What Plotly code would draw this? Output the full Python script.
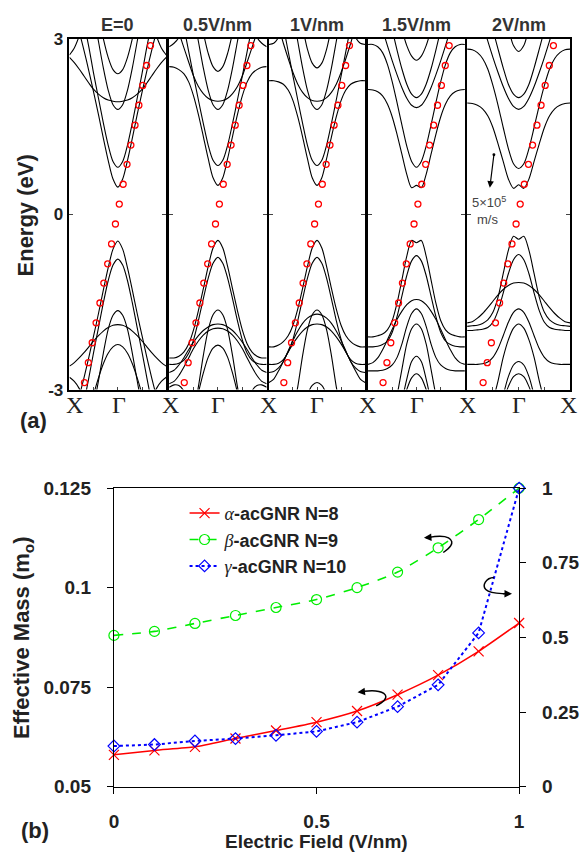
import plotly.graph_objects as go

# ---------------- data: panel (a) band structures ----------------
# Bands are symmetric about Gamma; each list gives E (eV) at K_HALF (|k| from Gamma to X).
K_HALF = [0.0, 0.1, 0.2, 0.3, 0.4, 0.5, 0.6, 0.7, 0.8, 0.9, 1.0]
PANEL_TITLES = ["E=0", "0.5V/nm", "1V/nm", "1.5V/nm", "2V/nm"]
N7 = [None] * 7
N6 = [None] * 6

BANDS_E0 = [
    [0.46, 0.60, 0.92, 1.30, 1.70, 2.08, 2.45, 2.80, 3.12, 3.40, 3.60],
    [0.80, 0.90, 1.18, 1.56, 1.98, 2.40, 2.86, 3.25, 3.60],
    [1.79, 1.87, 2.12, 2.50, 2.95, 3.40],
    [2.40, 2.47, 2.68, 3.00, 3.40],
    [1.92, 1.93, 1.95, 1.99, 2.05, 2.13, 2.24, 2.36, 2.48, 2.59, 2.68],
    N7 + [3.30, 3.04, 2.84, 2.72],
    [-0.46, -0.60, -0.92, -1.30, -1.70, -2.08, -2.45, -2.80, -3.12, -3.40],
    [-0.77, -0.87, -1.14, -1.52, -1.94, -2.36, -2.80, -3.22, -3.60],
    [-1.65, -1.73, -1.97, -2.38, -2.85, -3.30],
    [-1.89, -1.90, -1.94, -2.00, -2.08, -2.17, -2.27, -2.37, -2.46, -2.54, -2.60],
    [-2.23, -2.27, -2.38, -2.56, -2.80, -3.08, -3.40],
    N7 + [-3.20, -2.98, -2.86, -2.79],
]
BANDS_05 = [
    [0.49, 0.62, 0.95, 1.33, 1.70, 2.02, 2.26, 2.40, 2.47, 2.51, 2.52],
    [0.83, 0.92, 1.18, 1.55, 1.95, 2.36, 2.78, 3.20, 3.50],
    [1.79, 1.87, 2.12, 2.50, 2.95, 3.40],
    [2.44, 2.52, 2.75, 3.10, 3.50],
    [1.93, 1.94, 1.98, 2.06, 2.18, 2.36, 2.60, 2.85, 3.10, 3.30],
    N7 + [3.25, 3.02, 2.92, 2.86],
    [-0.45, -0.58, -0.90, -1.28, -1.65, -1.98, -2.22, -2.36, -2.43, -2.46, -2.46],
    [-0.74, -0.84, -1.10, -1.45, -1.82, -2.15, -2.38, -2.50, -2.55, -2.57, -2.57],
    [-1.64, -1.72, -1.98, -2.42, -2.95, -3.40],
    [-1.88, -1.89, -1.93, -1.99, -2.08, -2.19, -2.32, -2.46, -2.58, -2.67, -2.71],
    [-1.95, -1.96, -2.00, -2.07, -2.17, -2.30, -2.46, -2.62, -2.76, -2.86, -2.90],
    [-2.24, -2.29, -2.45, -2.72, -3.05, -3.40],
    N6 + [-3.20, -3.02, -2.93, -2.92, -2.96],
]
BANDS_10 = [
    [0.49, 0.62, 0.95, 1.32, 1.66, 1.94, 2.12, 2.22, 2.26, 2.28, 2.28],
    [0.83, 0.92, 1.18, 1.55, 1.95, 2.36, 2.78, 3.20, 3.50],
    [1.79, 1.87, 2.12, 2.50, 2.95, 3.40],
    [2.50, 2.58, 2.82, 3.20],
    [1.93, 1.94, 1.99, 2.08, 2.22, 2.42, 2.66, 2.92, 3.20, 3.40],
    N7 + [3.20, 3.02, 2.92, 2.90],
    [-0.45, -0.58, -0.90, -1.27, -1.62, -1.90, -2.08, -2.18, -2.24, -2.27, -2.27],
    [-0.74, -0.84, -1.10, -1.45, -1.82, -2.14, -2.36, -2.49, -2.55, -2.57, -2.57],
    [-1.64, -1.72, -1.98, -2.42, -2.95, -3.40],
    [-1.71, -1.73, -1.78, -1.87, -2.00, -2.16, -2.34, -2.52, -2.63, -2.69, -2.71],
    [-1.88, -1.89, -1.93, -2.00, -2.10, -2.22, -2.36, -2.52, -2.68, -2.82, -2.88],
    [-2.88, -2.93, -3.08, -3.30],
]
BANDS_15 = [
    [0.49, 0.45, 0.68, 1.02, 1.36, 1.66, 1.88, 2.02, 2.09, 2.12, 2.13],
    [0.80, 0.90, 1.16, 1.52, 1.90, 2.26, 2.56, 2.76, 2.86, 2.90, 2.90],
    [1.82, 1.86, 1.98, 2.16, 2.38, 2.62, 2.88, 3.15],
    [1.99, 2.05, 2.22, 2.48, 2.80, 3.15],
    [2.63, 2.70, 2.88, 3.15],
    [-0.49, -0.45, -0.72, -1.12, -1.52, -1.82, -1.98, -2.05, -2.08, -2.10, -2.10],
    [-0.71, -0.80, -1.05, -1.40, -1.75, -2.02, -2.17, -2.23, -2.26, -2.27, -2.27],
    [-1.46, -1.48, -1.55, -1.66, -1.80, -1.97, -2.15, -2.32, -2.46, -2.54, -2.57],
    [-1.62, -1.70, -1.92, -2.22, -2.45, -2.58, -2.64, -2.67, -2.68, -2.68, -2.68],
    [-1.88, -1.96, -2.22, -2.65, -3.10],
    [-2.43, -2.52, -2.82, -3.20],
    [-2.73, -2.80, -3.00, -3.30],
]
BANDS_20 = [
    [0.50, 0.44, 0.60, 0.90, 1.20, 1.48, 1.68, 1.80, 1.86, 1.89, 1.90],
    [0.78, 0.86, 1.12, 1.48, 1.86, 2.20, 2.48, 2.66, 2.76, 2.81, 2.82],
    [1.79, 1.84, 1.98, 2.18, 2.42, 2.68, 2.96, 3.25],
    [1.99, 2.05, 2.22, 2.50, 2.82, 3.15],
    [2.78, 2.88, 3.20],
    [-0.43, -0.38, -0.62, -1.02, -1.42, -1.68, -1.81, -1.87, -1.90, -1.91, -1.92],
    [-0.69, -0.78, -1.02, -1.35, -1.65, -1.85, -1.94, -1.97, -1.98, -1.99, -1.99],
    [-1.17, -1.18, -1.22, -1.29, -1.38, -1.49, -1.60, -1.70, -1.78, -1.84, -1.86],
    [-1.62, -1.68, -1.85, -2.08, -2.30, -2.45, -2.53, -2.56, -2.57, -2.57, -2.57],
    [-1.88, -1.95, -2.15, -2.45, -2.85, -3.20],
    [-2.52, -2.58, -2.78, -3.10],
    [-2.73, -2.78, -2.95, -3.20],
]
PANEL_BANDS = [BANDS_E0, BANDS_05, BANDS_10, BANDS_15, BANDS_20]

# linear dispersion guide (open red circles), k in units of Gamma-X
DIRAC_E = [2.88, 2.54, 2.20, 1.86, 1.52, 1.18, 0.85, 0.51, 0.17,
           -0.17, -0.51, -0.85, -1.18, -1.52, -1.86, -2.20, -2.54, -2.88]
DIRAC_K = [0.675, 0.595, 0.515, 0.435, 0.355, 0.270, 0.190, 0.110, 0.030,
           -0.050, -0.130, -0.210, -0.290, -0.370, -0.450, -0.530, -0.610, -0.690]
ENERGY_TICKS = [-3, 0, 3]
ENERGY_LABELS = ["-3", "0", "3"]

# ---------------- data: panel (b) effective mass ----------------
FIELD = [0.0, 0.1, 0.2, 0.3, 0.4, 0.5, 0.6, 0.7, 0.8, 0.9, 1.0]
MASS_ALPHA = [0.0580, 0.0591, 0.0600, 0.0621, 0.0641, 0.0662, 0.0690, 0.0731, 0.0780, 0.0840, 0.0911]
MASS_BETA = [0.0880, 0.0890, 0.0910, 0.0930, 0.0950, 0.0970, 0.1000, 0.1039, 0.1100, 0.1171, 0.1250]
MASS_GAMMA = [0.136, 0.141, 0.153, 0.161, 0.172, 0.185, 0.216, 0.268, 0.341, 0.515, 1.000]
LEFT_TICKS = [0.05, 0.075, 0.1, 0.125]
LEFT_LABELS = ["0.05", "0.075", "0.1", "0.125"]
RIGHT_TICKS = [0, 0.25, 0.5, 0.75, 1]
RIGHT_LABELS = ["0", "0.25", "0.5", "0.75", "1"]
FIELD_TICKS = [0, 0.5, 1]
FIELD_LABELS = ["0", "0.5", "1"]

# ---------------- layout helpers ----------------
W, H = 585, 864
SANS = "Liberation Sans"
SERIF = "Liberation Serif"
INK = "#222222"


def px_x(x):
    return x / W


def px_y(y):
    return 1 - y / H


def bold(labels):
    return [f"<b>{s}</b>" for s in labels]


def mirrored(half):
    vals = list(half) + [None] * (len(K_HALF) - len(half))
    ks = [-k for k in K_HALF[::-1]] + K_HALF[1:]
    es = vals[::-1] + vals[1:]
    return ks, es


PANEL_X = [(65.7, 164.3), (167.3, 266.7), (269.0, 367.0), (370.0, 468.7), (471.0, 576.0)]
PANEL_Y = (29.3, 389.0)
# X / Gamma labels under the panels (pixel x positions)
KLABEL_X = [70.5, 115.7, 168.5, 217.0, 268.5, 318.0, 369.5, 419.5, 471.5, 523.5, 574.5]
KLABEL_T = ["X", "\u0393", "X", "\u0393", "X", "\u0393", "X", "\u0393", "X", "\u0393", "X"]

fig = go.Figure()
layout = dict(width=W, height=H, margin=dict(l=0, r=0, t=0, b=0),
              paper_bgcolor="white", plot_bgcolor="white", showlegend=True)

annotations = []
for i, bands in enumerate(PANEL_BANDS):
    n = i + 1
    xa, ya = f"x{n}", f"y{n}"
    for half in bands:
        ks, es = mirrored(half)
        fig.add_trace(go.Scatter(x=ks, y=es, mode="lines", xaxis=xa, yaxis=ya,
                                 line=dict(color="black", width=1.1, shape="spline", smoothing=0.8),
                                 showlegend=False, hoverinfo="skip"))
    fig.add_trace(go.Scatter(x=DIRAC_K, y=DIRAC_E, mode="markers", xaxis=xa, yaxis=ya,
                             marker=dict(symbol="circle-open", size=6, color="red",
                                         line=dict(width=1.3, color="red")),
                             showlegend=False, hoverinfo="skip"))
    x0, x1 = PANEL_X[i]
    layout[f"xaxis{n}"] = dict(domain=[px_x(x0), px_x(x1)], range=[-1, 1], anchor=ya,
                               showline=True, linecolor="black", linewidth=1.5, mirror=True,
                               showgrid=False, zeroline=False, ticks="inside", ticklen=3,
                               tickvals=[-0.5, 0, 0.5], showticklabels=False)
    layout[f"yaxis{n}"] = dict(domain=[px_y(PANEL_Y[1]), px_y(PANEL_Y[0])], range=[-3, 3], anchor=xa,
                               showline=True, linecolor="black", linewidth=1.5, mirror="allticks",
                               showgrid=False, zeroline=False, ticks="inside", ticklen=4,
                               tickvals=ENERGY_TICKS, ticktext=bold(ENERGY_LABELS),
                               showticklabels=(n == 1), ticklabelstandoff=1,
                               tickfont=dict(family=SANS, size=17, color=INK))
    annotations.append(dict(text=f"<b>{PANEL_TITLES[i]}</b>", xref="paper", yref="paper",
                            x=px_x((x0 + x1) / 2), y=px_y(15), showarrow=False,
                            xanchor="center", yanchor="middle",
                            font=dict(family=SANS, size=18, color="#333333")))

for xp, t in zip(KLABEL_X, KLABEL_T):
    annotations.append(dict(text=t, xref="paper", yref="paper", x=px_x(xp), y=px_y(405),
                            showarrow=False, xanchor="center", yanchor="middle",
                            font=dict(family=SERIF, size=24, color=INK)))

# velocity marker in the 2 V/nm panel
annotations.append(dict(xref="x5", yref="y5", axref="x5", ayref="y5",
                        x=-0.56, y=0.45, ax=-0.477, ay=1.04, text="", showarrow=True,
                        arrowhead=2, arrowsize=1.1, arrowwidth=1.2, arrowcolor="black",
                        arrowside="end+start", startarrowhead=6, startarrowsize=0.6))
annotations.append(dict(xref="x5", yref="y5", x=-0.57, y=0.20, showarrow=False,
                        text="5\u00d710<sup>5</sup>",
                        font=dict(family=SANS, size=13, color="#444444")))
annotations.append(dict(xref="x5", yref="y5", x=-0.60, y=-0.10, showarrow=False,
                        text="m/s", font=dict(family=SANS, size=13, color="#444444")))

# ---------------- panel (b) ----------------
greek = "<span style='font-family:Liberation Serif;font-style:italic;font-weight:normal'>{}</span>"
fig.add_trace(go.Scatter(x=FIELD, y=MASS_ALPHA, xaxis="x6", yaxis="y6", mode="lines+markers",
                         name=greek.format("\u03b1") + "<b>-acGNR N=8</b>", legendgroup="a",
                         line=dict(color="#ff0000", width=1.5, shape="spline", smoothing=0.6),
                         marker=dict(symbol="x-thin-open", size=10, color="#ff0000",
                                     line=dict(width=1.2, color="#ff0000")), cliponaxis=False))
fig.add_trace(go.Scatter(x=FIELD, y=MASS_BETA, xaxis="x6", yaxis="y6", mode="lines+markers",
                         name=greek.format("\u03b2") + "<b>-acGNR N=9</b>", legendgroup="b",
                         line=dict(color="#00ee00", width=1.6, dash="dash", shape="spline", smoothing=0.6),
                         marker=dict(symbol="circle-open", size=10, color="#00ee00",
                                     line=dict(width=1.2, color="#00ee00")), cliponaxis=False))
fig.add_trace(go.Scatter(x=FIELD, y=MASS_GAMMA, xaxis="x6", yaxis="y7", mode="lines+markers",
                         name=greek.format("\u03b3") + "<b>-acGNR N=10</b>", legendgroup="c",
                         line=dict(color="#0000ff", width=2, dash="dot"),
                         marker=dict(symbol="diamond-open", size=9, color="#0000ff",
                                     line=dict(width=1.2, color="#0000ff")), cliponaxis=False))

B_X = (111.0, 524.0)
B_Y = (490.0, 796.0)
tickfont_b = dict(family=SANS, size=19, color=INK)
layout["xaxis6"] = dict(domain=[px_x(B_X[0]), px_x(B_X[1])], range=[0, 1], anchor="y6",
                        showline=True, linecolor="black", linewidth=1.3, mirror=True,
                        showgrid=False, zeroline=False, ticks="outside", ticklen=6,
                        tickcolor="black", tickvals=FIELD_TICKS, ticktext=bold(FIELD_LABELS),
                        ticklabelstandoff=11, tickfont=tickfont_b)
layout["yaxis6"] = dict(domain=[px_y(B_Y[1]), px_y(B_Y[0])], range=[0.05, 0.125], anchor="x6",
                        showline=True, linecolor="black", linewidth=1.3,
                        showgrid=False, zeroline=False, ticks="outside", ticklen=6,
                        tickcolor="black", tickvals=LEFT_TICKS, ticktext=bold(LEFT_LABELS),
                        ticklabelstandoff=12, tickfont=tickfont_b)
layout["yaxis7"] = dict(domain=[px_y(B_Y[1]), px_y(B_Y[0])], range=[0, 1], anchor="x6",
                        overlaying="y6", side="right",
                        showline=True, linecolor="black", linewidth=1.3,
                        showgrid=False, zeroline=False, ticks="outside", ticklen=6,
                        tickcolor="black", tickvals=RIGHT_TICKS, ticktext=bold(RIGHT_LABELS),
                        ticklabelstandoff=12, tickfont=tickfont_b)
layout["yaxis8"] = dict(domain=[px_y(B_Y[1]), px_y(B_Y[0])], range=[0, 1], anchor="x6",
                        overlaying="y6", side="right", showline=False, showgrid=False,
                        zeroline=False, ticks="inside", ticklen=6, tickcolor="black",
                        tickvals=RIGHT_TICKS, showticklabels=False)

layout["legend"] = dict(x=px_x(183), y=px_y(497), xanchor="left", yanchor="top",
                        bgcolor="rgba(0,0,0,0)", borderwidth=0, tracegroupgap=0,
                        font=dict(family=SANS, size=18, color=INK))

# curved arrows pointing each curve to its axis (data units of the left axis)
ARROW_PATHS = [
    "M 0.8128,0.10882 C 0.8257,0.10980 0.8450,0.11127 0.8257,0.11250 "
    "C 0.8136,0.11311 0.7918,0.11287 0.7772,0.11262",
    "M 0.9378,0.10252 C 0.9177,0.10245 0.9080,0.10049 0.9177,0.09951 "
    "C 0.9274,0.09853 0.9467,0.09853 0.9613,0.09848",
    "M 0.6472,0.07027 C 0.6610,0.07108 0.6804,0.07230 0.6659,0.07341 "
    "C 0.6538,0.07426 0.6320,0.07414 0.6174,0.07395",
]
ARROW_HEADS = [
    ((0.7869, 0.11267), (0.7651, 0.11250)),
    ((0.9564, 0.09848), (0.9823, 0.09846)),
    ((0.6223, 0.07395), (0.6012, 0.07370)),
]
shapes = []
for p in ARROW_PATHS:
    shapes.append(dict(type="path", path=p, xref="x6", yref="y6",
                       line=dict(color="black", width=1.5)))
for (tx, ty), (hx, hy) in ARROW_HEADS:
    annotations.append(dict(xref="x6", yref="y6", axref="x6", ayref="y6",
                            x=hx, y=hy, ax=tx, ay=ty, text="", showarrow=True,
                            arrowhead=2, arrowsize=1, arrowwidth=1.5, arrowcolor="black"))

# axis titles and panel labels
title_font = dict(family=SANS, size=22, color=INK)
annotations += [
    dict(text="<b>Energy (eV)</b>", xref="paper", yref="paper", x=px_x(21), y=px_y(211),
         textangle=-90, showarrow=False, xanchor="center", yanchor="middle", font=title_font),
    dict(text="<b>Effective Mass (m<sub>o</sub>)</b>", xref="paper", yref="paper",
         x=px_x(19), y=px_y(643), textangle=-90, showarrow=False,
         xanchor="center", yanchor="middle", font=title_font),
    dict(text="<b>Electric Field (V/nm)</b>", xref="paper", yref="paper", x=px_x(317), y=0,
         showarrow=False, xanchor="center", yanchor="bottom", borderpad=0,
         font=dict(family=SANS, size=19, color=INK)),
    dict(text="<b>(a)</b>", xref="paper", yref="paper", x=px_x(29), y=px_y(421),
         showarrow=False, xanchor="center", yanchor="middle", font=title_font),
    dict(text="<b>(b)</b>", xref="paper", yref="paper", x=px_x(31), y=px_y(841),
         showarrow=False, xanchor="center", yanchor="middle", font=title_font),
]

layout["annotations"] = annotations
layout["shapes"] = shapes
fig.update_layout(**layout)
fig.write_html("out.html")
